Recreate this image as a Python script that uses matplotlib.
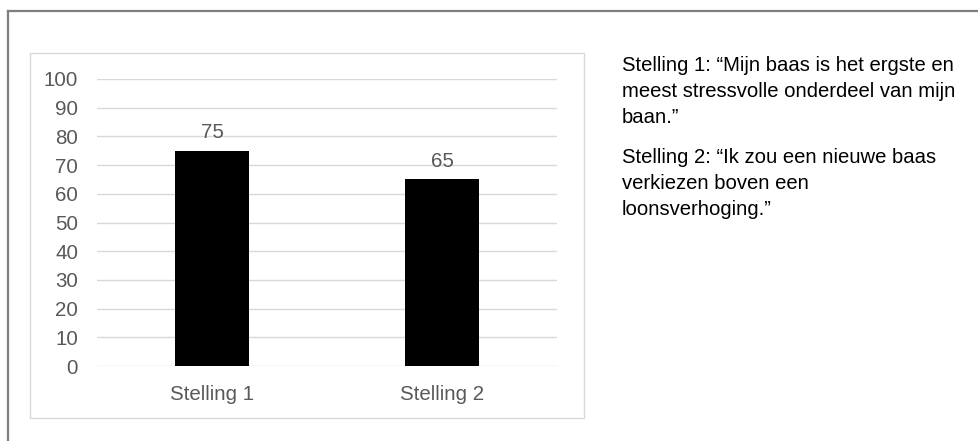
import matplotlib.pyplot as plt
from matplotlib.patches import Rectangle

plt.rcParams['font.family'] = ['Liberation Sans', 'DejaVu Sans']

# data
categories = ['Stelling 1', 'Stelling 2']
values = [75, 65]
yticks = [0, 10, 20, 30, 40, 50, 60, 70, 80, 90, 100]
notes = [
    'Stelling 1: \u201cMijn baas is het ergste en\nmeest stressvolle onderdeel van mijn\nbaan.\u201d',
    'Stelling 2: \u201cIk zou een nieuwe baas\nverkiezen boven een\nloonsverhoging.\u201d',
]

W, H = 979, 441
fig = plt.figure(figsize=(W / 100, H / 100), dpi=100)

def fx(px):
    return px / W

def fy(py):
    return 1 - py / H

# outer frame (top and left edge visible)
fig.add_artist(plt.Line2D([fx(8.5), 1.0], [fy(10.5), fy(10.5)], color='#7f7f7f', lw=1.6))
fig.add_artist(plt.Line2D([fx(8.5), fx(8.5)], [fy(10.5), 0.0], color='#7f7f7f', lw=1.6))

# chart area border
fig.add_artist(Rectangle((fx(30), fy(418)), fx(584) - fx(30), fy(53) - fy(418),
                         transform=fig.transFigure, fill=False, ec='#d9d9d9', lw=1.0))

ax = fig.add_axes([fx(97), fy(366), fx(557) - fx(97), fy(79) - fy(366)])
x = range(len(categories))
bars = ax.bar(x, values, width=0.32, color='black', zorder=3)
ax.set_xlim(-0.5, 1.5)
ax.set_ylim(0, 100)
ax.set_yticks(yticks)
ax.set_xticks(list(x))
ax.set_xticklabels(categories)
ax.yaxis.grid(True, color='#d9d9d9', lw=1.0, zorder=0)
for s in ax.spines.values():
    s.set_visible(False)
ax.tick_params(length=0, labelsize=14.8, colors='#595959')
ax.tick_params(axis='y', pad=13.5)
ax.tick_params(axis='x', pad=14)

for b, v in zip(bars, values):
    ax.annotate(str(v), (b.get_x() + b.get_width() / 2, v), xytext=(0, 6),
                textcoords='offset points', ha='center', va='bottom',
                fontsize=14.8, color='#595959')

# right side text
fig.text(fx(622), fy(56), notes[0], fontsize=14.6, color='black', va='top',
         linespacing=1.47)
fig.text(fx(622), fy(148), notes[1], fontsize=14.6, color='black', va='top',
         linespacing=1.47)

fig.savefig('out.png', dpi=100)
